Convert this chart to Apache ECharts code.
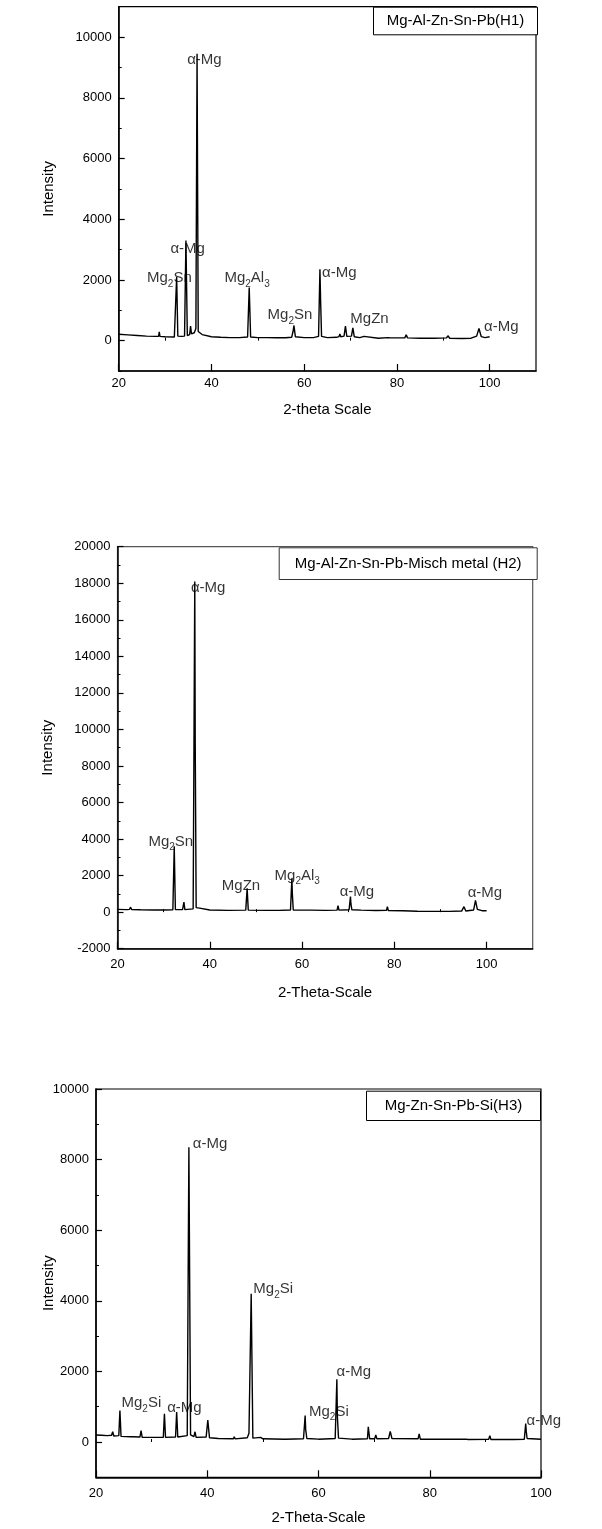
<!DOCTYPE html>
<html>
<head>
<meta charset="utf-8">
<script src="https://cdn.jsdelivr.net/npm/echarts@6/dist/echarts.min.js"></script>
<style>
  html, body { margin: 0; padding: 0; background: #fff; }
  #chart { width: 602px; height: 1529px; }
</style>
</head>
<body>
<div id="chart"></div>
<script>
// ---- H1 : Mg-Al-Zn-Sn-Pb ----
var h1Theta = [20, 22, 24, 26, 28, 28.6, 28.75, 28.9, 30, 32, 32.3, 32.5, 32.75, 33.5, 34.2, 34.5, 34.8, 35.3, 35.5, 35.7, 36.3, 36.65, 36.9, 37.15, 37.5, 38, 40, 42, 44, 46, 47.8, 48.15, 48.45, 50, 52, 54, 56, 57.3, 57.6, 57.8, 58.1, 60, 62, 63.1, 63.4, 63.55, 63.75, 65, 67, 67.5, 67.7, 67.9, 68.6, 68.9, 69.2, 70.2, 70.5, 70.8, 72, 72.9, 73.2, 76, 78.1, 78.3, 78.6, 81.7, 82, 82.3, 85, 88, 90.7, 91, 91.4, 94, 96, 97.2, 97.7, 98.2, 99, 100];
var h1Intensity = [210, 190, 170, 150, 140, 140, 290, 140, 130, 120, 160, 2100, 150, 140, 150, 3300, 170, 200, 480, 220, 260, 400, 9450, 300, 260, 200, 130, 110, 100, 100, 120, 1750, 120, 100, 100, 95, 95, 110, 300, 500, 130, 100, 100, 140, 2350, 1300, 140, 100, 110, 130, 220, 130, 150, 480, 140, 150, 420, 130, 100, 140, 100, 80, 100, 150, 90, 90, 190, 90, 80, 80, 90, 160, 80, 70, 80, 150, 400, 130, 100, 130];
var h1LabelTheta = [34.65, 31.05, 26.0, 42.7, 52.0, 63.75, 69.85, 98.7];
var h1LabelIntensity = [9250, 3030, 2060, 2060, 840, 2220, 730, 440];
var h1LabelText = ['α-Mg', 'α-Mg', 'Mg{s|2}Sn', 'Mg{s|2}Al{s|3}', 'Mg{s|2}Sn', 'α-Mg', 'MgZn', 'α-Mg'];
var h1YTicks = [0, 2000, 4000, 6000, 8000, 10000];
var h1YMinor = [-1000, 1000, 3000, 5000, 7000, 9000, 11000];

// ---- H2 : Mg-Al-Zn-Sn-Pb-Misch metal ----
var h2Theta = [20, 22, 22.6, 22.8, 23.1, 25, 28, 30, 32, 32.3, 32.55, 34.1, 34.4, 34.6, 36.4, 36.75, 36.85, 37.05, 37.8, 38.2, 40, 44, 47.8, 48.1, 48.35, 52, 55, 57.5, 57.8, 57.9, 58.1, 62, 65, 67.6, 67.8, 68, 70.2, 70.5, 70.6, 70.8, 72.8, 73, 73.2, 76, 78.3, 78.5, 78.7, 81.8, 82, 82.2, 85, 88, 92, 94.6, 95.1, 95.5, 97.2, 97.6, 98, 99, 100];
var h2Intensity = [150, 140, 150, 270, 140, 130, 120, 120, 130, 3600, 140, 140, 550, 140, 180, 18100, 9200, 250, 220, 150, 120, 100, 110, 1300, 110, 100, 100, 120, 1850, 1000, 120, 110, 100, 110, 350, 110, 130, 850, 450, 130, 110, 170, 100, 90, 100, 300, 90, 80, 150, 70, 50, 40, 40, 60, 300, 60, 120, 650, 150, 80, 80];
var h2LabelTheta = [35.8, 26.6, 42.5, 53.95, 68.05, 95.8];
var h2LabelIntensity = [17730, 3870, 1440, 2000, 1090, 1035];
var h2LabelText = ['α-Mg', 'Mg{s|2}Sn', 'MgZn', 'Mg{s|2}Al{s|3}', 'α-Mg', 'α-Mg'];
var h2YTicks = [-2000, 0, 2000, 4000, 6000, 8000, 10000, 12000, 14000, 16000, 18000, 20000];
var h2YMinor = [-1000, 1000, 3000, 5000, 7000, 9000, 11000, 13000, 15000, 17000, 19000];

// ---- H3 : Mg-Zn-Sn-Pb-Si ----
var h3Theta = [20, 21, 22, 22.8, 23, 23.2, 24.1, 24.3, 24.5, 26.2, 26.4, 26.6, 27.9, 28.1, 28.3, 30, 32.1, 32.3, 32.5, 34.3, 34.5, 34.7, 36.4, 36.7, 37, 37.6, 37.8, 38, 39.8, 40.1, 40.4, 42, 44.7, 44.85, 45, 47.2, 47.5, 47.7, 47.9, 48.2, 49.6, 50, 54, 57.3, 57.6, 57.7, 57.9, 60, 63, 63.3, 63.4, 63.6, 66, 68.8, 68.95, 69.2, 70.1, 70.3, 70.5, 72.6, 72.9, 73.2, 77.9, 78.1, 78.3, 82, 86.5, 86.7, 86.9, 90.6, 90.8, 91, 95, 97, 97.25, 97.35, 97.5, 100];
var h3Intensity = [200, 190, 180, 190, 290, 170, 180, 890, 160, 150, 180, 150, 140, 320, 130, 130, 130, 800, 130, 140, 850, 140, 180, 8350, 200, 150, 290, 130, 140, 620, 120, 100, 90, 150, 90, 120, 250, 200, 4200, 110, 130, 90, 80, 90, 750, 350, 100, 80, 100, 1780, 700, 110, 80, 90, 430, 90, 90, 200, 90, 100, 300, 100, 90, 230, 80, 80, 80, 100, 70, 80, 180, 70, 70, 80, 520, 300, 100, 80];
var h3LabelTheta = [37.3, 48.2, 24.5, 32.7, 63.15, 58.2, 97.3];
var h3LabelIntensity = [8440, 4340, 1110, 970, 1990, 860, 590];
var h3LabelText = ['α-Mg', 'Mg{s|2}Si', 'Mg{s|2}Si', 'α-Mg', 'α-Mg', 'Mg{s|2}Si', 'α-Mg'];
var h3YTicks = [0, 2000, 4000, 6000, 8000, 10000];
var h3YMinor = [-1000, 1000, 3000, 5000, 7000, 9000];

var xTicks = [20, 40, 60, 80, 100];
var xMinorA = [30, 50, 70, 90];
var FONT = 'Liberation Sans, Arial, sans-serif';

function zip(a, b) {
    return a.map(function (v, i) { return [v, b[i]]; });
}
function plain(v) { return String(v); }

function mainX(g, max, name, nameGap, margin) {
    return {
        gridIndex: g, type: 'value', min: 20, max: max, interval: 10,
        name: name, nameLocation: 'middle', nameGap: nameGap, nameMoveOverlap: false,
        nameTextStyle: { fontFamily: FONT, fontSize: 15, color: '#000' },
        axisLine: { show: true, onZero: false, lineStyle: { color: '#000', width: 1.5 } },
        axisTick: { show: true, inside: true, length: 7, customValues: xTicks, lineStyle: { color: '#000', width: 1.2 } },
        axisLabel: { customValues: xTicks, formatter: plain, margin: margin, fontFamily: FONT, fontSize: 13, color: '#000' },
        splitLine: { show: false }
    };
}
function minorX(g, max) {
    return {
        gridIndex: g, type: 'value', min: 20, max: max, interval: 10, position: 'bottom',
        axisLine: { show: false },
        axisTick: { show: true, inside: true, length: 3, customValues: xMinorA, lineStyle: { color: '#000' } },
        axisLabel: { show: false },
        splitLine: { show: false }
    };
}
function mainY(g, min, max, ticks, nameGap) {
    return {
        gridIndex: g, type: 'value', min: min, max: max, interval: 1000,
        name: 'Intensity', nameLocation: 'middle', nameGap: nameGap, nameMoveOverlap: false,
        nameTextStyle: { fontFamily: FONT, fontSize: 15, color: '#000' },
        axisLine: { show: true, onZero: false, lineStyle: { color: '#000', width: 1.5 } },
        axisTick: { show: true, inside: true, length: 6, customValues: ticks, lineStyle: { color: '#000', width: 1.2 } },
        axisLabel: { customValues: ticks, formatter: plain, margin: 7, fontFamily: FONT, fontSize: 13, color: '#000' },
        splitLine: { show: false }
    };
}
function minorY(g, min, max, ticks) {
    return {
        gridIndex: g, type: 'value', min: min, max: max, interval: 1000, position: 'left',
        axisLine: { show: false },
        axisTick: { show: true, inside: true, length: 3, customValues: ticks, lineStyle: { color: '#000' } },
        axisLabel: { show: false },
        splitLine: { show: false }
    };
}
function pattern(g, xs, ys) {
    return {
        type: 'line', xAxisIndex: g * 2, yAxisIndex: g * 2, data: zip(xs, ys),
        showSymbol: false, symbol: 'none', silent: true,
        lineStyle: { color: '#000', width: 1.4 }
    };
}
function labels(g, xs, ys, texts) {
    return {
        type: 'scatter', xAxisIndex: g * 2, yAxisIndex: g * 2, silent: true,
        symbolSize: 1, itemStyle: { color: 'rgba(0,0,0,0)' },
        data: xs.map(function (x, i) { return [x, ys[i], texts[i]]; }),
        label: {
            show: true, position: 'right', distance: 0,
            fontFamily: FONT, fontSize: 15, color: '#000', lineHeight: 22,
            formatter: function (p) { return p.data[2]; },
            rich: { s: { fontFamily: FONT, fontSize: 10, color: '#000', lineHeight: 10, verticalAlign: 'bottom' } }
        }
    };
}
function legendBox(x, y, w, h, text, color) {
    return {
        type: 'group', left: x, top: y,
        children: [
            { type: 'rect', shape: { x: 0, y: 0, width: w, height: h }, style: { fill: '#fff', stroke: color, lineWidth: 1 } },
            { type: 'text', x: w / 2, y: h / 2, style: { text: text, fontFamily: FONT, fontSize: 15, fill: '#000', align: 'center', verticalAlign: 'middle' } }
        ]
    };
}

var chart = echarts.init(document.getElementById('chart'));
chart.setOption({
    animation: false,
    backgroundColor: '#fff',
    grid: [
        { left: 118.7, top: 6.7, width: 417.3, height: 364.3, show: true, borderColor: '#000', borderWidth: 1.2 },
        { left: 117.5, top: 546.7, width: 415.2, height: 402, show: true, borderColor: '#555', borderWidth: 1.2 },
        { left: 96, top: 1089, width: 445, height: 388.3, show: true, borderColor: '#000', borderWidth: 1.2 }
    ],
    xAxis: [
        mainX(0, 110, '2-theta Scale', 31.5, 6), minorX(0, 110),
        mainX(1, 110, '2-Theta-Scale', 36.5, 9.5), minorX(1, 110),
        mainX(2, 100, '2-Theta-Scale', 33.5, 9.5), minorX(2, 100)
    ],
    yAxis: [
        mainY(0, -1000, 11000, h1YTicks, 62), minorY(0, -1000, 11000, h1YMinor),
        mainY(1, -2000, 20000, h2YTicks, 62), minorY(1, -2000, 20000, h2YMinor),
        mainY(2, -1000, 10000, h3YTicks, 40), minorY(2, -1000, 10000, h3YMinor)
    ],
    series: [
        pattern(0, h1Theta, h1Intensity), labels(0, h1LabelTheta, h1LabelIntensity, h1LabelText),
        pattern(1, h2Theta, h2Intensity), labels(1, h2LabelTheta, h2LabelIntensity, h2LabelText),
        pattern(2, h3Theta, h3Intensity), labels(2, h3LabelTheta, h3LabelIntensity, h3LabelText)
    ],
    graphic: [
        legendBox(373, 6.7, 164, 27.6, 'Mg-Al-Zn-Sn-Pb(H1)', '#000'),
        legendBox(278.7, 547.3, 258, 31.7, 'Mg-Al-Zn-Sn-Pb-Misch metal (H2)', '#333'),
        legendBox(366, 1090.7, 174, 29.3, 'Mg-Zn-Sn-Pb-Si(H3)', '#000')
    ]
});
</script>
</body>
</html>
